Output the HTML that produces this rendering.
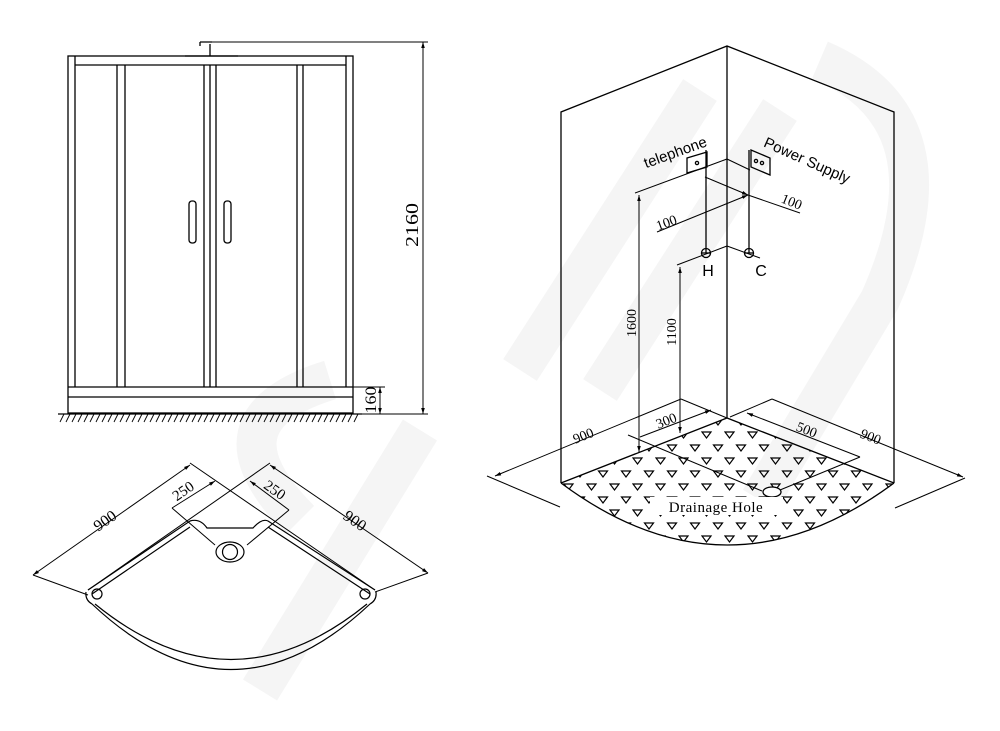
<!DOCTYPE html>
<html><head><meta charset="utf-8"><style>
html,body{margin:0;padding:0;background:#fff;}
svg{display:block;}
text{font-family:"Liberation Serif",serif;fill:#000;}
.s{font-family:"Liberation Sans",sans-serif;}
</style></head><body>
<svg width="1000" height="731" viewBox="0 0 1000 731" xmlns="http://www.w3.org/2000/svg">
<defs>
<pattern id="tri" width="23" height="26" patternUnits="userSpaceOnUse" x="563" y="430">
<path d="M1,2 L10,2 L5.5,8 Z M12.5,15 L21.5,15 L17,21 Z" fill="none" stroke="#000" stroke-width="1.2"/>
</pattern>
<clipPath id="fl"><path d="M727,418 L561,483 Q727,607 894,483 Z"/></clipPath>
<marker id="a" viewBox="0 0 10 10" refX="10" refY="5" markerWidth="8" markerHeight="6" orient="auto-start-reverse"><path d="M0,2 L10,5 L0,8 Z" fill="#000"/></marker>
</defs>
<g fill="none" stroke="#f5f5f5" stroke-width="40">
<path d="M260,690 L420,430 M300,520 Q200,420 330,380"/>
<path d="M520,370 L700,90 M600,390 L780,110"/>
<path d="M820,60 Q960,120 880,300 L760,500"/>
</g>
<g fill="none" stroke="#000" stroke-width="1.3">
<rect x="68" y="56" width="285" height="357"/>
<line x1="75" y1="65" x2="346" y2="65"/>
<line x1="75" y1="56" x2="75" y2="387"/><line x1="346" y1="56" x2="346" y2="387"/>
<line x1="117" y1="65" x2="117" y2="387"/><line x1="125" y1="65" x2="125" y2="387"/>
<line x1="204" y1="65" x2="204" y2="387"/><line x1="210" y1="65" x2="210" y2="387"/><line x1="216" y1="65" x2="216" y2="387"/>
<line x1="297" y1="65" x2="297" y2="387"/><line x1="303" y1="65" x2="303" y2="387"/>
<line x1="68" y1="387" x2="353" y2="387"/><line x1="68" y1="397" x2="353" y2="397"/>
<rect x="189" y="201" width="7" height="42" rx="3"/><rect x="224" y="201" width="7" height="42" rx="3"/>
<path d="M200,42 L212,42 M200,42 L200,46 M210,44 L210,56 M185,56 L238,56" />
<line x1="58" y1="414" x2="362" y2="414"/>
<path d="M60,422 L64,414 M66,422 L70,414 M72,422 L76,414 M78,422 L82,414 M84,422 L88,414 M90,422 L94,414 M96,422 L100,414 M102,422 L106,414 M108,422 L112,414 M114,422 L118,414 M120,422 L124,414 M126,422 L130,414 M132,422 L136,414 M138,422 L142,414 M144,422 L148,414 M150,422 L154,414 M156,422 L160,414 M162,422 L166,414 M168,422 L172,414 M174,422 L178,414 M180,422 L184,414 M186,422 L190,414 M192,422 L196,414 M198,422 L202,414 M204,422 L208,414 M210,422 L214,414 M216,422 L220,414 M222,422 L226,414 M228,422 L232,414 M234,422 L238,414 M240,422 L244,414 M246,422 L250,414 M252,422 L256,414 M258,422 L262,414 M264,422 L268,414 M270,422 L274,414 M276,422 L280,414 M282,422 L286,414 M288,422 L292,414 M294,422 L298,414 M300,422 L304,414 M306,422 L310,414 M312,422 L316,414 M318,422 L322,414 M324,422 L328,414 M330,422 L334,414 M336,422 L340,414 M342,422 L346,414 M348,422 L352,414 M354,422 L358,414" stroke-width="0.9"/>
<line x1="212" y1="42" x2="428" y2="42" stroke-width="1"/>
<line x1="353" y1="414" x2="428" y2="414" stroke-width="1"/>
<line x1="423" y1="42" x2="423" y2="414" marker-start="url(#a)" marker-end="url(#a)" stroke-width="1"/>
<line x1="353" y1="387" x2="385" y2="387" stroke-width="1"/>
<line x1="380" y1="387" x2="380" y2="414" marker-start="url(#a)" marker-end="url(#a)" stroke-width="1"/>
</g>
<text transform="translate(418,225) rotate(-90) scale(1,0.8)" font-size="22" text-anchor="middle">2160</text>
<text transform="translate(376,400) rotate(-90) scale(1,0.85)" font-size="18" text-anchor="middle">160</text>

<rect x="540" y="400" width="380" height="160" fill="url(#tri)" clip-path="url(#fl)"/>
<g fill="none" stroke="#000" stroke-width="1.3">
<line x1="727" y1="46" x2="727" y2="418"/>
<path d="M561,483 L561,112 L727,46 L894,112 L894,483"/>
<path d="M561,483 L727,418 L894,483"/>
<path d="M561,483 Q727,607 894,483"/>
<ellipse cx="772" cy="492" rx="9" ry="5" fill="#fff"/>
<path d="M687,158 L707,152 L707,167 L687,173 Z"/>
<path d="M751,150 L770,158 L770,175 L751,167 Z"/>
<circle cx="697" cy="163" r="1.6"/><circle cx="756" cy="161" r="1.6"/><circle cx="762" cy="163" r="1.6"/>
<line x1="706" y1="150" x2="706" y2="253"/>
<line x1="749" y1="150" x2="749" y2="253"/>
<circle cx="706" cy="253" r="4.5"/><circle cx="749" cy="253" r="4.5"/>
<line x1="702" y1="253" x2="710" y2="253"/><line x1="745" y1="253" x2="753" y2="253"/>
</g>
<g fill="none" stroke="#000" stroke-width="1">
<line x1="635" y1="193" x2="727" y2="159"/>
<line x1="727" y1="159" x2="750" y2="170"/>
<line x1="705" y1="177" x2="748" y2="195" marker-end="url(#a)"/>
<line x1="748" y1="195" x2="800" y2="213"/>
<line x1="657" y1="232" x2="748" y2="195" marker-end="url(#a)"/>
<line x1="677" y1="265" x2="727" y2="246"/>
<line x1="727" y1="246" x2="760" y2="258"/>
<line x1="639" y1="195" x2="639" y2="452" marker-start="url(#a)" marker-end="url(#a)"/>
<line x1="680" y1="267" x2="680" y2="433" marker-start="url(#a)" marker-end="url(#a)"/>
<line x1="495" y1="476" x2="681" y2="399" marker-start="url(#a)"/>
<line x1="681" y1="399" x2="727" y2="418"/>
<line x1="640" y1="437" x2="711" y2="410" marker-end="url(#a)"/>
<line x1="628" y1="435" x2="762" y2="491"/>
<line x1="487" y1="476" x2="560" y2="507"/>
<line x1="747" y1="413" x2="860" y2="457" marker-start="url(#a)"/>
<line x1="772" y1="399" x2="963" y2="477" marker-end="url(#a)"/>
<line x1="772" y1="399" x2="730" y2="417"/>
<line x1="965" y1="478" x2="895" y2="508"/>
<line x1="860" y1="457" x2="780" y2="490"/>
</g>
<text class="s" transform="translate(677,157) rotate(-20)" font-size="15" text-anchor="middle">telephone</text>
<text class="s" transform="translate(805,165) rotate(24)" font-size="15" text-anchor="middle">Power Supply</text>
<text class="s" x="708" y="276" font-size="16" text-anchor="middle">H</text>
<text class="s" x="761" y="276" font-size="16" text-anchor="middle">C</text>
<text transform="translate(668,227) rotate(-20)" font-size="14" text-anchor="middle">100</text>
<text transform="translate(790,206) rotate(22)" font-size="14" text-anchor="middle">100</text>
<text transform="translate(636,323) rotate(-90)" font-size="14" text-anchor="middle">1600</text>
<text transform="translate(676,332) rotate(-90)" font-size="14" text-anchor="middle">1100</text>
<text transform="translate(668,425) rotate(-22)" font-size="14" text-anchor="middle">300</text>
<text transform="translate(585,440) rotate(-22)" font-size="14" text-anchor="middle">900</text>
<text transform="translate(805,434) rotate(22)" font-size="14" text-anchor="middle">500</text>
<text transform="translate(869,441) rotate(22)" font-size="14" text-anchor="middle">900</text>
<rect x="650" y="497" width="133" height="18" fill="#fff"/>
<text x="716" y="512" font-size="15" text-anchor="middle" letter-spacing="0.5">Drainage Hole</text>

<g fill="none" stroke="#000" stroke-width="1.2">
<path d="M88,590 L190,521 Q200,518 207,528 L253,528 Q262,518 268,521 L375,590"/>
<path d="M92,594 L190,527 M370,594 L268,527"/>
<path d="M86,592 Q85,600 92,604 Q231,735 370,604 Q377,600 376,592"/>
<path d="M95,604 Q231,715 367,604"/>
<circle cx="97" cy="594" r="5"/><circle cx="365" cy="594" r="5"/>
<ellipse cx="230" cy="552" rx="14" ry="10"/>
<circle cx="230" cy="552" r="7.5"/>
<line x1="190" y1="463" x2="375" y2="590" stroke-width="1"/>
<line x1="270" y1="463" x2="88" y2="590" stroke-width="1"/>
</g>
<g fill="none" stroke="#000" stroke-width="1">
<line x1="33" y1="575" x2="190" y2="465" marker-start="url(#a)" marker-end="url(#a)"/>
<line x1="33" y1="575" x2="88" y2="595"/>
<line x1="270" y1="465" x2="428" y2="573" marker-start="url(#a)" marker-end="url(#a)"/>
<line x1="428" y1="573" x2="375" y2="592"/>
<line x1="172" y1="508" x2="215" y2="481" marker-end="url(#a)"/>
<line x1="250" y1="481" x2="289" y2="510" marker-start="url(#a)"/>
<line x1="172" y1="508" x2="215" y2="545"/>
<line x1="289" y1="510" x2="247" y2="545"/>
</g>
<text transform="translate(108,525) rotate(-35)" font-size="16" text-anchor="middle">900</text>
<text transform="translate(352,525) rotate(35)" font-size="16" text-anchor="middle">900</text>
<text transform="translate(186,495) rotate(-35)" font-size="15" text-anchor="middle">250</text>
<text transform="translate(272,494) rotate(35)" font-size="15" text-anchor="middle">250</text>
</svg>
</body></html>
